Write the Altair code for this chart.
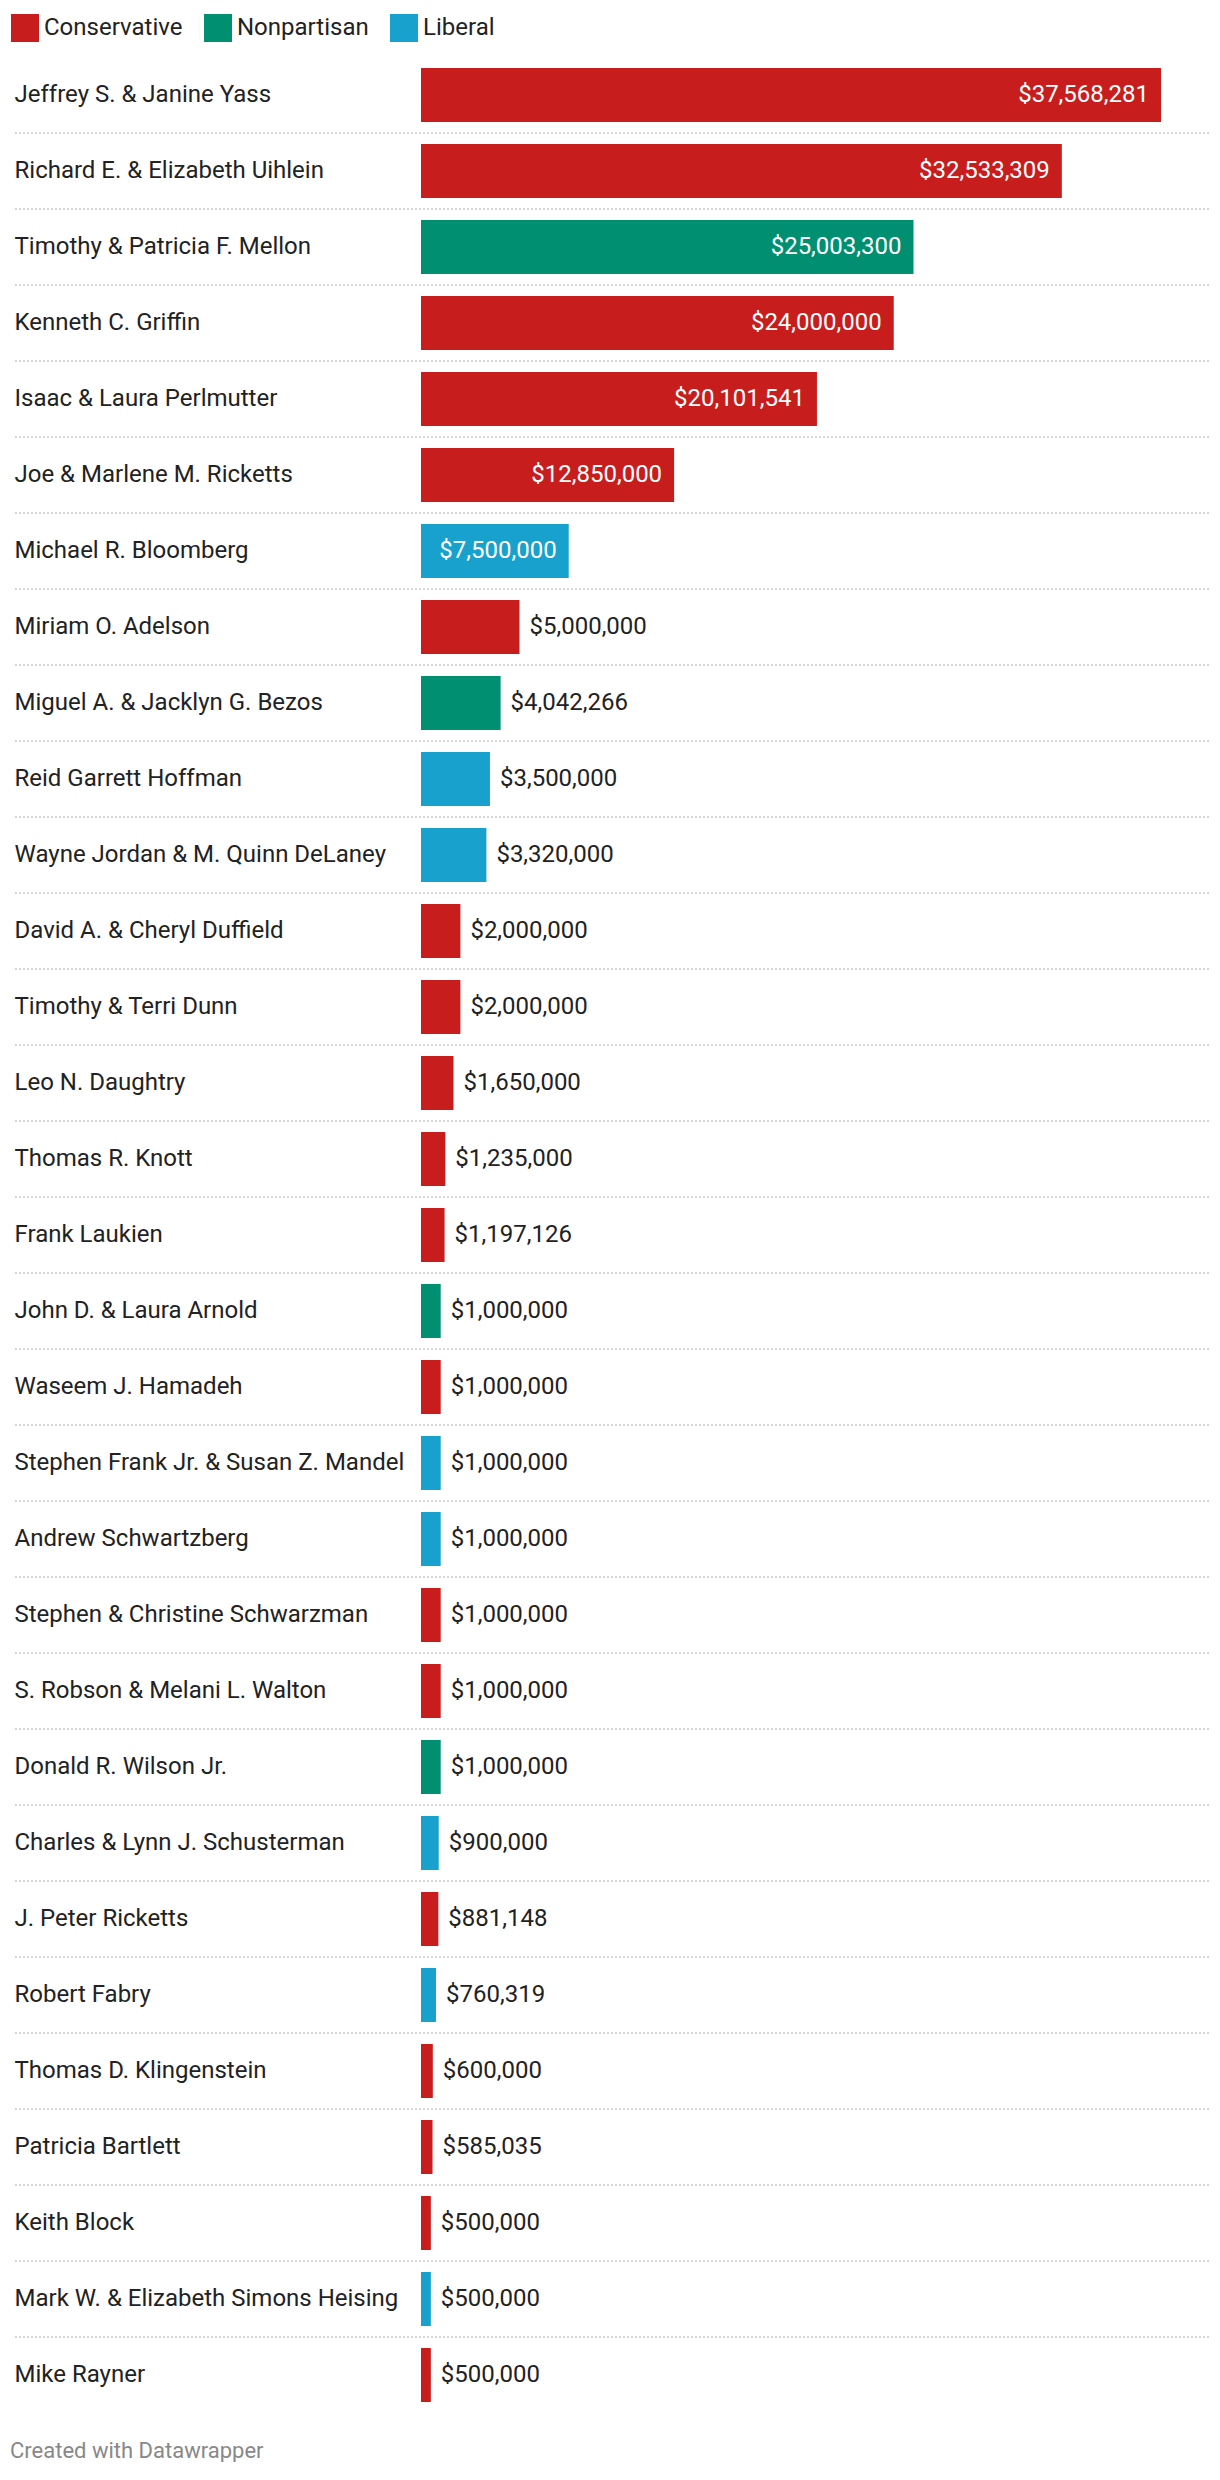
import altair as alt
import pandas as pd

names = [
    "Jeffrey S. & Janine Yass",
    "Richard E. & Elizabeth Uihlein",
    "Timothy & Patricia F. Mellon",
    "Kenneth C. Griffin",
    "Isaac & Laura Perlmutter",
    "Joe & Marlene M. Ricketts",
    "Michael R. Bloomberg",
    "Miriam O. Adelson",
    "Miguel A. & Jacklyn G. Bezos",
    "Reid Garrett Hoffman",
    "Wayne Jordan & M. Quinn DeLaney",
    "David A. & Cheryl Duffield",
    "Timothy & Terri Dunn",
    "Leo N. Daughtry",
    "Thomas R. Knott",
    "Frank Laukien",
    "John D. & Laura Arnold",
    "Waseem J. Hamadeh",
    "Stephen Frank Jr. & Susan Z. Mandel",
    "Andrew Schwartzberg",
    "Stephen & Christine Schwarzman",
    "S. Robson & Melani L. Walton",
    "Donald R. Wilson Jr.",
    "Charles & Lynn J. Schusterman",
    "J. Peter Ricketts",
    "Robert Fabry",
    "Thomas D. Klingenstein",
    "Patricia Bartlett",
    "Keith Block",
    "Mark W. & Elizabeth Simons Heising",
    "Mike Rayner",
]

amounts = [
    37568281, 32533309, 25003300, 24000000, 20101541, 12850000, 7500000,
    5000000, 4042266, 3500000, 3320000, 2000000, 2000000, 1650000, 1235000,
    1197126, 1000000, 1000000, 1000000, 1000000, 1000000, 1000000, 1000000,
    900000, 881148, 760319, 600000, 585035, 500000, 500000, 500000,
]

leanings = [
    "Conservative", "Conservative", "Nonpartisan", "Conservative", "Conservative",
    "Conservative", "Liberal", "Conservative", "Nonpartisan", "Liberal", "Liberal",
    "Conservative", "Conservative", "Conservative", "Conservative", "Conservative",
    "Nonpartisan", "Conservative", "Liberal", "Liberal", "Conservative",
    "Conservative", "Nonpartisan", "Liberal", "Conservative", "Liberal",
    "Conservative", "Conservative", "Conservative", "Liberal", "Conservative",
]

categories = ["Conservative", "Nonpartisan", "Liberal"]
colors = ["#c71e1d", "#008f70", "#18a1cd"]

df = pd.DataFrame({"name": names, "amount": amounts, "leaning": leanings})
sep_df = pd.DataFrame({"name": names[:-1]})

FONT = "Roboto"
FS = 24
INSIDE_MIN = 7000000

y_enc = alt.Y(
    "name:N",
    sort=names,
    title=None,
    scale=alt.Scale(paddingInner=0.29, paddingOuter=0.145),
    axis=alt.Axis(
        labelAlign="left",
        labelPadding=-1,
        ticks=False,
        tickSize=0,
        domain=False,
        grid=False,
        labelFont=FONT,
        labelFontSize=FS,
        labelColor="#222222",
        labelLimit=420,
    ),
)

x_enc = alt.X(
    "amount:Q",
    axis=None,
    scale=alt.Scale(domain=[0, max(amounts)], range=[408, 1148], nice=False, zero=True),
)

bars = alt.Chart(df).mark_bar().encode(
    x=x_enc,
    y=y_enc,
    color=alt.Color(
        "leaning:N",
        scale=alt.Scale(domain=categories, range=colors),
        legend=alt.Legend(
            title=None,
            orient="none",
            legendX=-2,
            legendY=-43,
            direction="horizontal",
            symbolType="square",
            symbolSize=784,
            symbolStrokeWidth=0,
            symbolOpacity=1,
            labelFont=FONT,
            labelFontSize=FS,
            labelColor="#222222",
            labelOffset=5,
            columnPadding=21,
            padding=0,
        ),
    ),
)

seps = alt.Chart(sep_df).mark_rule(
    color="#d6d6d6", strokeWidth=2, strokeDash=[2, 2], yOffset=11
).encode(
    y=alt.Y("name:N", sort=names, bandPosition=1),
)

inside = alt.Chart(df).transform_filter(
    alt.datum.amount >= INSIDE_MIN
).mark_text(
    align="right", baseline="middle", dx=-12, color="white", font=FONT, fontSize=FS
).encode(
    x=x_enc,
    y=alt.Y("name:N", sort=names),
    text=alt.Text("amount:Q", format="$,.0f"),
)

outside = alt.Chart(df).transform_filter(
    alt.datum.amount < INSIDE_MIN
).mark_text(
    align="left", baseline="middle", dx=10, color="#222222", font=FONT, fontSize=FS
).encode(
    x=x_enc,
    y=alt.Y("name:N", sort=names),
    text=alt.Text("amount:Q", format="$,.0f"),
)

chart = alt.layer(seps, bars, inside, outside).properties(
    width=1196,
    height=2356,
    padding={"left": 2, "top": 6, "right": 0, "bottom": 0},
    title=alt.TitleParams(
        "Created with Datawrapper",
        orient="bottom",
        anchor="start",
        font=FONT,
        fontSize=22,
        fontWeight="normal",
        color="#888888",
        offset=28,
        dx=-1,
    ),
).configure_view(stroke=None)

chart.save("out.html", embed_options={"renderer": "svg", "actions": False})
